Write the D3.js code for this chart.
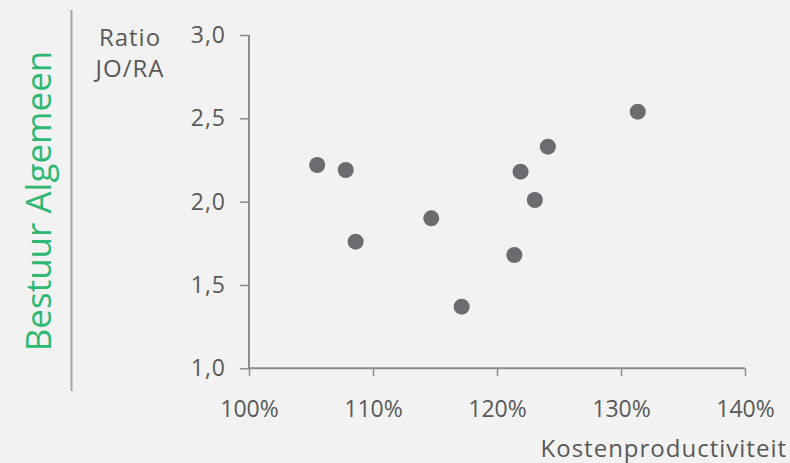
<!DOCTYPE html>
<html><head><meta charset="utf-8">
<script src="https://cdn.jsdelivr.net/npm/d3@7"></script>
<style>
html,body{margin:0;padding:0;background:#f2f2f2;}
svg{display:block;}
text{font-family:"Open Sans",sans-serif;fill:#595959;}
</style></head>
<body>
<script>
const kostenproductiviteit = [105.5, 107.8, 108.6, 114.7, 117.15, 121.4, 121.9, 123.05, 124.1, 131.35];
const ratioJORA = [2.22, 2.19, 1.76, 1.90, 1.37, 1.68, 2.18, 2.01, 2.33, 2.54];
const xTicks = [100, 110, 120, 130, 140];
const yTicks = [1.0, 1.5, 2.0, 2.5, 3.0];
const title = "Bestuur Algemeen";
const xTitle = "Kostenproductiviteit";
const yTitle = ["Ratio", "JO/RA"];

const W = 790, H = 463;
const svg = d3.select("body").append("svg").attr("width", W).attr("height", H);
svg.append("rect").attr("width", W).attr("height", H).attr("fill", "#f2f2f2");

const x = d3.scaleLinear().domain([100, 140]).range([249, 745]);
const y = d3.scaleLinear().domain([1.0, 3.0]).range([368.3, 35]);

// title + separator
svg.append("text").attr("transform", "translate(51,201) rotate(-90)")
  .attr("text-anchor", "middle").style("fill", "#2eb872").style("font-size", "35px")
  .text(title);
svg.append("line").attr("x1", 71.5).attr("x2", 71.5).attr("y1", 10).attr("y2", 391)
  .attr("stroke", "#a6a6a6").attr("stroke-width", 2);

// y axis
const yAxis = svg.append("g").attr("transform", "translate(249,0)")
  .call(d3.axisLeft(y).tickValues(yTicks).tickSize(9).tickPadding(14)
    .tickFormat(d => d3.format(".1f")(d).replace(".", ",")));
// x axis
const xAxis = svg.append("g").attr("transform", "translate(0,368.3)")
  .call(d3.axisBottom(x).tickValues(xTicks).tickSize(8).tickPadding(24)
    .tickFormat(d => d + "%"));
[yAxis, xAxis].forEach(g => {
  g.select(".domain").attr("stroke", "#8c8c8c").attr("stroke-width", 2);
  g.selectAll(".tick line").attr("stroke", "#8c8c8c").attr("stroke-width", 1.5);
  g.selectAll("text").style("font-size", "23px").style("fill", "#595959").style("font-family", '"Open Sans",sans-serif');
});
yAxis.selectAll("text").style("letter-spacing", "1px");
yAxis.select(".domain").attr("d", "M0,35V368.3");
xAxis.select(".domain").attr("d", "M249,0H745");

// axis titles
const yt = svg.append("text").attr("text-anchor", "middle").style("font-size", "24px").style("letter-spacing", "1px");
yTitle.forEach((t, i) => yt.append("tspan").attr("x", 130).attr("y", 46 + i * 31).text(t));
svg.append("text").attr("x", 787).attr("y", 456.7).attr("text-anchor", "end")
  .style("font-size", "24px").style("letter-spacing", "1px").text(xTitle);

// points
svg.append("g").selectAll("circle").data(kostenproductiviteit).join("circle")
  .attr("cx", d => x(d)).attr("cy", (d, i) => y(ratioJORA[i])).attr("r", 8)
  .attr("fill", "#6b6b70");
</script>
</body></html>
